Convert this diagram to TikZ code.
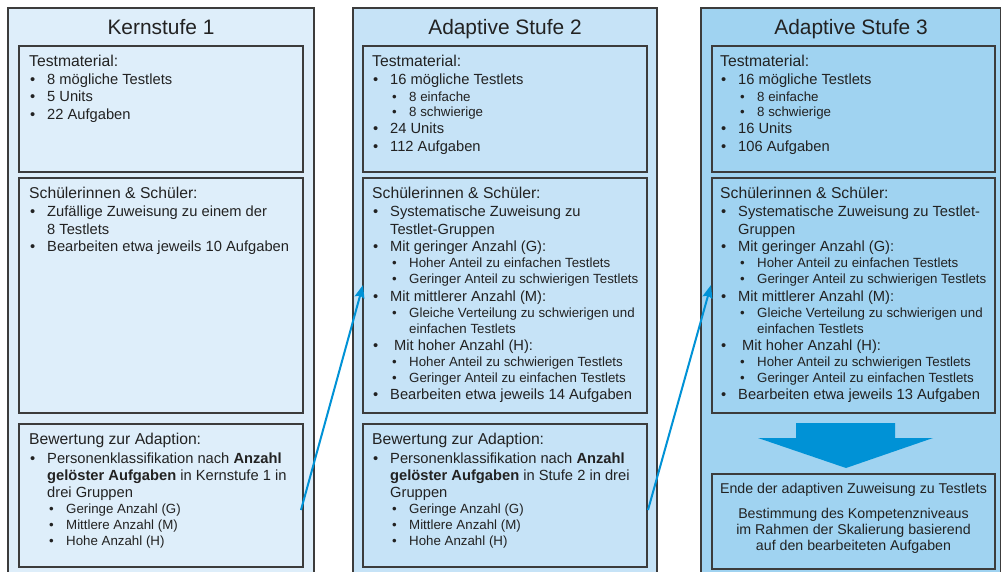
\documentclass[tikz,border=0pt]{standalone}
\usepackage{fontspec}
\setmainfont{Liberation Sans}
\usetikzlibrary{arrows.meta}
\definecolor{bordc}{HTML}{3C3C3C}
\definecolor{fillA}{HTML}{DEEEFA}
\definecolor{fillB}{HTML}{C6E3F7}
\definecolor{fillC}{HTML}{A0D3F1}
\definecolor{arrc}{HTML}{0092D6}
\definecolor{txtc}{HTML}{222222}
\tikzset{
  outerbox/.style={draw=bordc, line width=1.3pt},
  innerbox/.style={draw=bordc, line width=1.2pt},
  htxt/.style={inner sep=0pt, anchor=base west, text=txtc, font=\fontsize{15.7}{18}\selectfont},
  txt/.style={inner sep=0pt, anchor=base west, text=txtc, font=\fontsize{14.7}{17}\selectfont},
  stxt/.style={inner sep=0pt, anchor=base west, text=txtc, font=\fontsize{13.3}{15}\selectfont},
  ttl/.style={inner sep=0pt, anchor=base, text=txtc, font=\fontsize{20.9}{24}\selectfont},
  ctxt/.style={inner sep=0pt, anchor=base, text=txtc, font=\fontsize{14.2}{16}\selectfont},
  thinarrow/.style={draw=arrc, line width=2pt, -{Stealth[length=13pt,width=10pt,inset=2pt]}},
}
\newcommand{\hd}[3]{\node[htxt] at (#1,#2+1.5) {#3};}
\newcommand{\bi}[3]{\node[txt] at (#1+1,#2+1.5) {•}; \node[txt] at (#1+18,#2+1.5) {#3};}
\newcommand{\bc}[3]{\node[txt] at (#1+18,#2+1.5) {#3};}
\newcommand{\sbi}[3]{\node[stxt] at (#1+20,#2+1.5) {•}; \node[stxt] at (#1+37,#2+1.5) {#3};}
\newcommand{\sbc}[3]{\node[stxt] at (#1+37,#2+1.5) {#3};}
\begin{document}
\begin{tikzpicture}[x=1pt,y=-1pt]
\useasboundingbox (0,0) rectangle (1002,572);
\clip (0,0) rectangle (1002,572);
\fill[white] (0,0) rectangle (1002,572);
% outer columns
\draw[outerbox, fill=fillA] (8,8) rectangle (314,590);
\draw[outerbox, fill=fillB] (353,8) rectangle (657,590);
\draw[outerbox, fill=fillC] (701,8) rectangle (1000.6,590);
% titles
\node[ttl] (t1) at (161,34.5) {Kernstufe 1};
\node[ttl] (t2) at (505,34.5) {Adaptive Stufe 2};
\node[ttl] (t3) at (851,34.5) {Adaptive Stufe 3};
% inner boxes
\draw[innerbox] (19,46) rectangle (303,172);
\draw[innerbox] (19,178) rectangle (303,413);
\draw[innerbox] (19,424) rectangle (303,567);
\draw[innerbox] (363,46) rectangle (647,172);
\draw[innerbox] (363,178) rectangle (647,413);
\draw[innerbox] (363,424) rectangle (647,567);
\draw[innerbox] (712,46) rectangle (995,172);
\draw[innerbox] (712,178) rectangle (995,413);
\draw[innerbox] (712,474) rectangle (995,569);
% column 1
\hd{29}{65}{Testmaterial:}
\bi{29}{83}{8 mögliche Testlets}
\bi{29}{100.5}{5 Units}
\bi{29}{118}{22 Aufgaben}
\hd{29}{197}{Schülerinnen \& Schüler:}
\bi{29}{215}{Zufällige Zuweisung zu einem der}
\bc{29}{233}{8 Testlets}
\bi{29}{250}{Bearbeiten etwa jeweils 10 Aufgaben}
\hd{29}{443}{Bewertung zur Adaption:}
\bi{29}{462}{Personenklassifikation nach \textbf{Anzahl}}
\bc{29}{479}{\textbf{gelöster Aufgaben} in Kernstufe 1 in}
\bc{29}{496}{drei Gruppen}
\sbi{29}{512}{Geringe Anzahl (G)}
\sbi{29}{528}{Mittlere Anzahl (M)}
\sbi{29}{544}{Hohe Anzahl (H)}
% column 2
\hd{372}{65}{Testmaterial:}
\bi{372}{83}{16 mögliche Testlets}
\sbi{372}{100}{8 einfache}
\sbi{372}{115.5}{8 schwierige}
\bi{372}{132}{24 Units}
\bi{372}{150}{112 Aufgaben}
\hd{372}{197}{Schülerinnen \& Schüler:}
\bi{372}{215}{Systematische Zuweisung zu}
\bc{372}{233}{Testlet-Gruppen}
\bi{372}{250}{Mit geringer Anzahl (G):}
\sbi{372}{266}{Hoher Anteil zu einfachen Testlets}
\sbi{372}{282}{Geringer Anteil zu schwierigen Testlets}
\bi{372}{300}{Mit mittlerer Anzahl (M):}
\sbi{372}{316}{Gleiche Verteilung zu schwierigen und}
\sbc{372}{332}{einfachen Testlets}
\bi{372}{349}{\hspace{4pt}Mit hoher Anzahl (H):}
\sbi{372}{365}{Hoher Anteil zu schwierigen Testlets}
\sbi{372}{381}{Geringer Anteil zu einfachen Testlets}
\bi{372}{398}{Bearbeiten etwa jeweils 14 Aufgaben}
\hd{372}{443}{Bewertung zur Adaption:}
\bi{372}{462}{Personenklassifikation nach \textbf{Anzahl}}
\bc{372}{479}{\textbf{gelöster Aufgaben} in Stufe 2 in drei}
\bc{372}{496}{Gruppen}
\sbi{372}{512}{Geringe Anzahl (G)}
\sbi{372}{528}{Mittlere Anzahl (M)}
\sbi{372}{544}{Hohe Anzahl (H)}
% column 3
\hd{720}{65}{Testmaterial:}
\bi{720}{83}{16 mögliche Testlets}
\sbi{720}{100}{8 einfache}
\sbi{720}{115.5}{8 schwierige}
\bi{720}{132}{16 Units}
\bi{720}{150}{106 Aufgaben}
\hd{720}{197}{Schülerinnen \& Schüler:}
\bi{720}{215}{Systematische Zuweisung zu Testlet-}
\bc{720}{233}{Gruppen}
\bi{720}{250}{Mit geringer Anzahl (G):}
\sbi{720}{266}{Hoher Anteil zu einfachen Testlets}
\sbi{720}{282}{Geringer Anteil zu schwierigen Testlets}
\bi{720}{300}{Mit mittlerer Anzahl (M):}
\sbi{720}{316}{Gleiche Verteilung zu schwierigen und}
\sbc{720}{332}{einfachen Testlets}
\bi{720}{349}{\hspace{4pt}Mit hoher Anzahl (H):}
\sbi{720}{365}{Hoher Anteil zu schwierigen Testlets}
\sbi{720}{381}{Geringer Anteil zu einfachen Testlets}
\bi{720}{398}{Bearbeiten etwa jeweils 13 Aufgaben}
% big arrow
\fill[arrc] (796,423) -- (895,423) -- (895,438) -- (933,438) -- (846,468) -- (758,438) -- (796,438) -- cycle;
% final text
\node[ctxt] (e1) at (853.5,493) {Ende der adaptiven Zuweisung zu Testlets};
\node[ctxt] (e2) at (853.5,518) {Bestimmung des Kompetenzniveaus};
\node[ctxt] (e3) at (853.5,534) {im Rahmen der Skalierung basierend};
\node[ctxt] (e4) at (853.5,550) {auf den bearbeiteten Aufgaben};
% thin arrows
\coordinate (a1s) at (301,510);
\coordinate (a1e) at (363,285);
\coordinate (a2s) at (648,510);
\coordinate (a2e) at (711,285);
\draw[thinarrow] (a1s) -- (a1e);
\draw[thinarrow] (a2s) -- (a2e);
\end{tikzpicture}
\end{document}
